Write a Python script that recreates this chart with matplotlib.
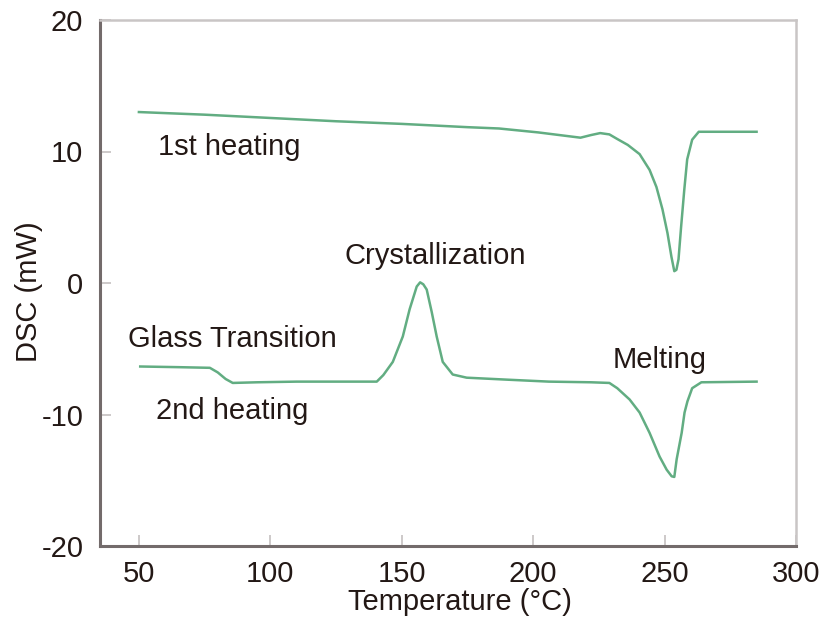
import matplotlib
matplotlib.use("Agg")
import matplotlib.pyplot as plt

# 1st heating curve (Temperature degC, DSC mW)
heat1_t = [50, 75, 100, 125, 150, 175, 187, 202, 212, 218, 222, 225.5, 229, 232, 236,
           240.5, 244.3, 246.9, 249.2, 251.1, 252.6, 253.7, 254.5, 255.3, 256.3, 257.5,
           258.6, 260.5, 263, 285]
heat1_dsc = [13.0, 12.8, 12.55, 12.3, 12.1, 11.85, 11.75, 11.45, 11.2, 11.05, 11.25, 11.4,
             11.3, 10.95, 10.5, 9.8, 8.6, 7.3, 5.6, 3.8, 2.0, 0.9, 1.0, 1.8, 4.3, 7.1,
             9.4, 10.9, 11.5, 11.5]

# 2nd heating curve
heat2_t = [50.5, 65, 77, 80, 83, 85.7, 95, 110, 125, 140.5, 143, 146.6, 150.4, 153, 155.7,
           157, 158.2, 159.5, 161.4, 163.3, 165.6, 169.4, 174.7, 190, 206, 222, 229, 232,
           236.7, 240.5, 244.3, 248.1, 250.8, 252.7, 253.7, 254.6, 256.5, 257.6, 258.7,
           260.5, 264, 285]
heat2_dsc = [-6.35, -6.4, -6.45, -6.8, -7.3, -7.6, -7.55, -7.5, -7.5, -7.5, -7.0, -6.0,
             -4.07, -2.0, -0.27, 0.05, -0.1, -0.5, -2.2, -4.07, -6.0, -6.96, -7.2, -7.35,
             -7.5, -7.55, -7.6, -8.0, -8.86, -9.85, -11.4, -13.2, -14.2, -14.7, -14.75,
             -13.4, -11.4, -9.85, -9.0, -8.0, -7.55, -7.5]

# annotation labels (text, x, y at baseline, data units)
labels = [("1st heating", 84.4, 9.77),
          ("Crystallization", 162.7, 1.41),
          ("Glass Transition", 85.7, -4.9),
          ("Melting", 248.1, -6.43),
          ("2nd heating", 85.6, -10.38)]

xticks = [50, 100, 150, 200, 250, 300]
yticks = [-20, -10, 0, 10, 20]

plt.rcParams['font.family'] = ['Liberation Sans', 'DejaVu Sans']
plt.rcParams['axes.unicode_minus'] = False
txt = "#231815"
green = "#62ad82"

fig = plt.figure(figsize=(8.22, 6.23), dpi=100)
ax = fig.add_axes([100 / 822, 1 - 546 / 623, 696 / 822, 526 / 623])

ax.plot(heat1_t, heat1_dsc, color=green, lw=1.8)
ax.plot(heat2_t, heat2_dsc, color=green, lw=1.8)

for s, x, y in labels:
    ax.text(x, y, s, fontsize=21, color=txt, ha="center", va="baseline")

ax.set_xlim(35.2, 300)
ax.set_ylim(-20, 20)
ax.set_xticks(xticks)
ax.set_yticks(yticks)
ax.tick_params(direction="in", length=8, width=1.3, color="#c9c5c5",
               labelsize=21, labelcolor=txt)
ax.tick_params(axis="x", pad=10)
ax.tick_params(axis="y", pad=12)

for side in ("left", "bottom"):
    ax.spines[side].set_color("#736b6b")
    ax.spines[side].set_linewidth(2.2)
for side in ("top", "right"):
    ax.spines[side].set_color("#c9c5c5")
    ax.spines[side].set_linewidth(1.8)

ax.set_xlabel("Temperature (°C)", fontsize=21, color=txt)
ax.set_ylabel("DSC (mW)", fontsize=21, color=txt)
ax.xaxis.set_label_coords(0.517, -0.08)
ax.yaxis.set_label_coords(-0.082, 0.483)

fig.savefig("out.png", dpi=100)
